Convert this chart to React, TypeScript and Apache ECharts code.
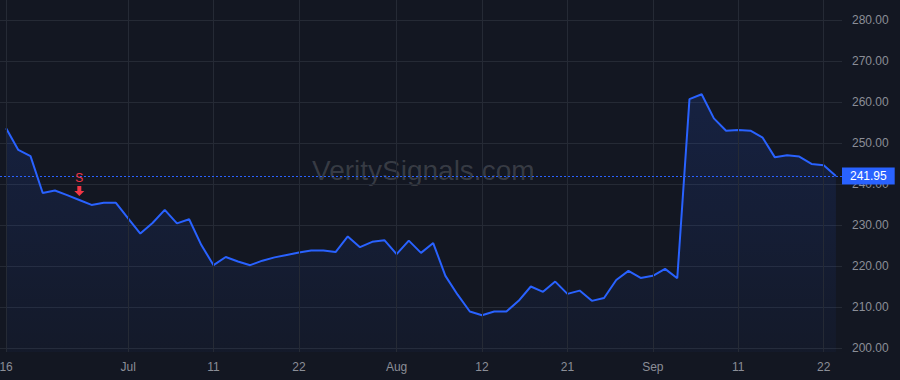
import React, { useEffect, useRef } from "react";
import * as echarts from "echarts";

const dates: string[] = [
  "2025-06-16", "2025-06-17", "2025-06-18", "2025-06-20", "2025-06-23", "2025-06-24", "2025-06-25", "2025-06-26", "2025-06-27", "2025-06-30",
  "2025-07-01", "2025-07-02", "2025-07-03", "2025-07-07", "2025-07-08", "2025-07-09", "2025-07-10", "2025-07-11", "2025-07-14", "2025-07-15",
  "2025-07-16", "2025-07-17", "2025-07-18", "2025-07-21", "2025-07-22", "2025-07-23", "2025-07-24", "2025-07-25", "2025-07-28", "2025-07-29",
  "2025-07-30", "2025-07-31", "2025-08-01", "2025-08-04", "2025-08-05", "2025-08-06", "2025-08-07", "2025-08-08", "2025-08-11", "2025-08-12",
  "2025-08-13", "2025-08-14", "2025-08-15", "2025-08-18", "2025-08-19", "2025-08-20", "2025-08-21", "2025-08-22", "2025-08-25", "2025-08-26",
  "2025-08-27", "2025-08-28", "2025-08-29", "2025-09-02", "2025-09-03", "2025-09-04", "2025-09-05", "2025-09-08", "2025-09-09", "2025-09-10",
  "2025-09-11", "2025-09-12", "2025-09-15", "2025-09-16", "2025-09-17", "2025-09-18", "2025-09-19", "2025-09-22", "2025-09-23",
];

const closes: number[] = [
  253.6, 248.3, 246.8, 237.8, 238.4, 237.3, 236.1, 234.9, 235.4, 235.4,
  231.6, 227.9, 230.5, 233.7, 230.4, 231.4, 225.1, 220.2, 222.2, 221.1,
  220.2, 221.3, 222.1, 222.7, 223.3, 223.8, 223.8, 223.4, 227.2, 224.6,
  225.9, 226.3, 222.9, 226.2, 223.2, 225.6, 217.6, 213.0, 208.9, 208.0,
  208.9, 208.9, 211.5, 215.0, 213.7, 216.2, 213.2, 214.0, 211.5, 212.2,
  216.6, 218.8, 217.1, 217.6, 219.3, 217.0, 260.7, 261.9, 256.0, 253.0,
  253.2, 253.0, 251.3, 246.5, 247.0, 246.7, 244.9, 244.6, 241.95,
];

const tickDates: string[] = [
  "2025-06-16", "2025-07-01", "2025-07-11", "2025-07-22", "2025-08-01",
  "2025-08-12", "2025-08-21", "2025-09-02", "2025-09-11", "2025-09-22",
];
const tickLabels: string[] = ["16", "Jul", "11", "22", "Aug", "12", "21", "Sep", "11", "22"];

const priceTicks: number[] = [200, 210, 220, 230, 240, 250, 260, 270, 280];

const signalDates: string[] = ["2025-06-25"];
const signalLabels: string[] = ["S"];

const watermarkText = "VeritySignals.com";

const BG = "#131722";
const GRID = "#252a35";
const BLUE = "#2962FF";
const RED = "#F23645";
const LABEL = "#8b8e97";
const FONT = "'Liberation Sans', Arial, sans-serif";

export default function App() {
  const ref = useRef<HTMLDivElement>(null);
  useEffect(() => {
    if (!ref.current) return;
    const chart = echarts.init(ref.current, undefined, { renderer: "svg" });
    const lastPrice = closes[closes.length - 1];
    const signalIdx = signalDates.map((d) => dates.indexOf(d));

    chart.setOption({
      animation: false,
      backgroundColor: BG,
      textStyle: { fontFamily: FONT },
      grid: {
        left: 0,
        right: 58,
        top: 0,
        bottom: 28,
        containLabel: false,
        outerBoundsMode: "none",
      },
      graphic: [
        {
          type: "text",
          left: 312,
          top: 156,
          z: 0,
          style: {
            text: watermarkText,
            fill: "rgba(255,255,255,0.16)",
            font: `28px ${FONT}`,
          },
        },
      ],
      xAxis: {
        type: "category",
        data: dates,
        boundaryGap: true,
        axisLine: { show: false },
        axisTick: { show: false },
        splitLine: { show: false },
        axisLabel: {
          color: LABEL,
          fontSize: 12,
          fontFamily: FONT,
          margin: 9,
          hideOverlap: false,
          interval: (_i: number, v: string) => tickDates.includes(v),
          formatter: (v: string) => {
            const k = tickDates.indexOf(v);
            return k >= 0 ? tickLabels[k] : "";
          },
        },
      },
      yAxis: {
        type: "value",
        position: "right",
        min: 200 - 4 / 4.1,
        max: 280 + 20 / 4.1,
        axisLine: { show: false },
        axisTick: { show: false, customValues: priceTicks },
        splitLine: { show: true, lineStyle: { color: GRID, width: 1 } },
        axisLabel: {
          customValues: priceTicks,
          color: LABEL,
          fontSize: 12,
          fontFamily: FONT,
          margin: 10,
          formatter: (v: number) => v.toFixed(2),
        },
      },
      series: [
        {
          type: "line",
          data: [],
          z: 1,
          silent: true,
          markLine: {
            silent: true,
            symbol: ["none", "none"],
            label: { show: false },
            lineStyle: { color: GRID, width: 1, type: "solid" },
            data: tickDates.map((d) => ({ xAxis: d })),
          },
        },
        {
          type: "line",
          data: closes,
          z: 3,
          symbol: "none",
          lineStyle: { color: BLUE, width: 2 },
          areaStyle: {
            color: new echarts.graphic.LinearGradient(0, 0, 0, 1, [
              { offset: 0, color: "rgba(41,98,255,0.20)" },
              { offset: 1, color: "rgba(41,98,255,0.05)" },
            ]),
          },
          markLine: {
            silent: true,
            symbol: ["none", "none"],
            lineStyle: { color: BLUE, width: 1, type: [2, 2] },
            label: {
              show: true,
              position: "end",
              distance: 0,
              formatter: lastPrice.toFixed(2),
              color: "#ffffff",
              backgroundColor: BLUE,
              fontSize: 12,
              fontFamily: FONT,
              padding: [3, 8, 2, 8],
            },
            data: [{ yAxis: lastPrice }],
          },
          markPoint: {
            silent: true,
            symbol: "path://M3,0 L7,0 L7,5 L10,5 L5,10 L0,5 L3,5 Z",
            symbolSize: [10, 10],
            symbolOffset: [0, -9],
            itemStyle: { color: RED },
            label: {
              show: true,
              position: "top",
              distance: 2,
              color: RED,
              fontSize: 12,
              fontFamily: FONT,
            },
            data: signalIdx.map((k, j) => ({
              coord: [dates[k], closes[k]],
              value: signalLabels[j],
              label: { formatter: signalLabels[j] },
            })),
          },
        },
      ],
    });
    return () => chart.dispose();
  }, []);
  return (
    <div
      ref={ref}
      style={{ position: "fixed", left: 0, top: 0, width: 900, height: 380 }}
    />
  );
}
